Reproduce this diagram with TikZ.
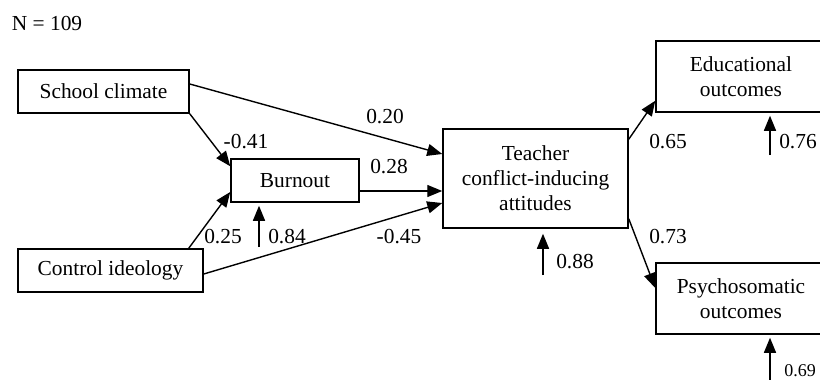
\documentclass[tikz,border=0pt]{standalone}
\usepackage{fontspec}
\setmainfont{Liberation Serif}
\usepackage{tikz}
\usetikzlibrary{arrows.meta, positioning, calc}

\begin{document}
\begin{tikzpicture}[
    x=0.5pt, y=-0.5pt,
    var/.style={rectangle, draw=black, line width=0.75pt, inner sep=0pt, minimum height=21.5pt, align=center, font=\fontsize{10.7}{12.5}\selectfont},
    outvar/.style={var, minimum width=85pt, minimum height=35.5pt},
    arrow/.style={-{Triangle[length=7.5pt, width=6pt]}, line width=0.7pt, draw=black},
    resid/.style={arrow, shorten >=1.5pt},
    coef/.style={inner sep=0pt, font=\fontsize{10.7}{12.5}\selectfont},
]
\useasboundingbox (0,0) rectangle (820,380);

% Sample size
\node[coef] (n) at (47,23) {N = 109};

% Exogenous variables
\node[var, minimum width=85.5pt] (climate) at (103.5,91.5) {School climate};
\node[var, minimum width=92.5pt] (ideology) at (110.5,270.5) {Control ideology};

% Mediators
\node[var, minimum width=64pt] (burnout) at (295,180.5) {Burnout};
\node[var, minimum width=92.5pt, minimum height=49.5pt] (teacher) at (535.5,178.5) {Teacher\\conflict-inducing\\attitudes};

% Outcomes
\node[outvar] (edu) at (741,76.5) {Educational\\outcomes};
\node[outvar] (psy) at (741,298.5) {Psychosomatic\\outcomes};

% Paths
\draw[arrow] ([yshift=3.75pt]climate.east) -- ([yshift=12.25pt]teacher.west);
\draw[arrow] (climate.south east) -- ([yshift=-4pt]burnout.north west);
\draw[arrow] ([yshift=-5.25pt]burnout.east) -- ([yshift=-6.25pt]teacher.west);
\draw[arrow] ([xshift=-7.5pt]ideology.north east) -- ([yshift=-5.75pt]burnout.west);
\draw[arrow] ([yshift=-1.75pt]ideology.east) -- ([yshift=-12.25pt]teacher.west);
\draw[arrow] ([yshift=-5.5pt]teacher.north east) -- ([yshift=6pt]edu.south west);
\draw[arrow] ([yshift=5pt]teacher.south east) -- ([yshift=5.25pt]psy.west);

% Residuals
\coordinate (rburnout) at (259,247);
\coordinate (rteacher) at (543,275);
\coordinate (redu) at (770,155);
\coordinate (rpsy) at (770,384);
\draw[resid] (rburnout) -- (rburnout |- burnout.south);
\draw[resid, shorten >=2.5pt] (rteacher) -- (rteacher |- teacher.south);
\draw[resid] (redu) -- (redu |- edu.south);
\draw[resid] (rpsy) -- (rpsy |- psy.south);

% Coefficients
\node[coef] (c020) at (385,117) {0.20};
\node[coef] (c041) at (246,142) {-0.41};
\node[coef] (c028) at (389,167) {0.28};
\node[coef] (c025) at (223,237) {0.25};
\node[coef] (c084) at (287,237) {0.84};
\node[coef] (c045) at (399,237) {-0.45};
\node[coef] (c065) at (668,142) {0.65};
\node[coef] (c076) at (798,142) {0.76};
\node[coef] (c073) at (668,237) {0.73};
\node[coef] (c088) at (575,262) {0.88};
\node[coef, font=\fontsize{9}{11}\selectfont] (c069) at (800,371) {0.69};

\end{tikzpicture}
\end{document}
